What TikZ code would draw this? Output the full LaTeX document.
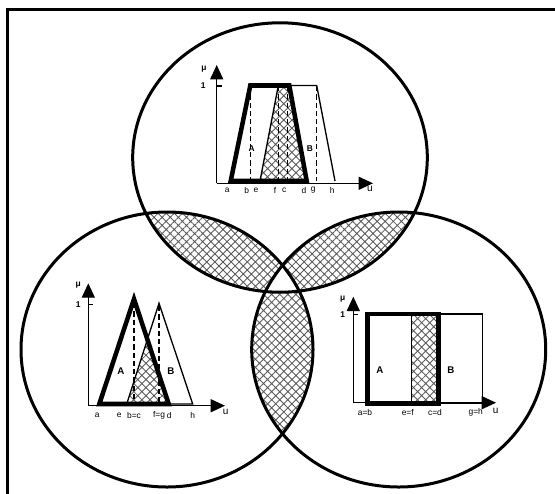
\documentclass[tikz,border=0pt]{standalone}
\usepackage{fontspec}
\setmainfont{Liberation Sans}
\usetikzlibrary{arrows.meta,patterns.meta}

\begin{document}
\begin{tikzpicture}[x=0.75pt, y=-0.75pt,
  ring/.style={line width=2.25pt},
  topset/.style={insert path={(280,157.5) ellipse [x radius=147.3, y radius=134.7]}},
  leftset/.style={insert path={(167,349.5) ellipse [x radius=146, y radius=137.5]}},
  rightset/.style={insert path={(398.7,349.5) ellipse [x radius=147, y radius=137.5]}},
  setA/.style={line width=3.4pt},
  setB/.style={line width=1pt},
  cut/.style={line width=1.1pt, dash pattern=on 4pt off 2.2pt},
  axis/.style={line width=1pt, -{Triangle[length=10.8pt, width=9.8pt]}},
  hatch/.style={pattern={Hatch[angle=45, distance=4.3pt, line width=0.65pt]}, pattern color=black!65},
  ticklab/.style={font=\fontsize{6.3}{7}\selectfont, inner sep=0pt},
  mulab/.style={font=\bfseries\fontsize{6.3}{7}\selectfont, inner sep=0pt},
  ulab/.style={font=\fontsize{7.5}{8}\selectfont, inner sep=0pt},
  setlab/.style={font=\bfseries\fontsize{7.3}{8}\selectfont, inner sep=0pt}]
  \useasboundingbox (0,0) rectangle (555,493);
  \clip (0,0) rectangle (555,493);
  % frame (runs off the right and bottom)
  \draw[line width=2.25pt] (7.5,600) -- (7.5,9) -- (600,9);
  % hatched lenses
  \begin{scope}
    \clip[topset];
    \fill[hatch, leftset];
    \fill[hatch, rightset];
  \end{scope}
  \begin{scope}
    \clip[leftset];
    \fill[hatch, rightset];
  \end{scope}
  % middle part left blank
  \begin{scope}
    \clip[topset];
    \clip[leftset];
    \fill[white, rightset];
  \end{scope}
  % the three sets
  \draw[ring, topset];
  \draw[ring, leftset];
  \draw[ring, rightset];

  % top plot: trapezoids
  \fill[hatch] (260,181) -- (278.3,85.5) -- (289.3,85.5) -- (306.7,181) -- cycle;
  \draw[axis] (216.7,183.3) -- (216.7,65);
  \draw[axis] (216.7,183.3) -- (373,183.3);
  \draw[line width=1pt] (216.7,86) -- ++(5,0);
  \node[mulab] (muT) at (204,69.5) {μ};
  \node[mulab] (oneT) at (203.3,86) {1};
  \node[ulab] (uT) at (370,189.3) {u};
  \foreach \x in {250.3,278.3,287.7,316.3}{
    \draw[cut] (\x,86) -- (\x,181);
  }
  \draw[setB] (260,181) -- (278.3,85.5) -- (316.7,85.5) -- (335,181);
  \draw[setA] (230.7,181) -- (250.3,85.5) -- (289.3,85.5) -- (306.7,181) -- cycle;
  \node[setlab, font=\bfseries\fontsize{6.3}{7}\selectfont] (AT) at (251.7,148.3) {A};
  \node[setlab, font=\bfseries\fontsize{6.3}{7}\selectfont] (BT) at (310,148.3) {B};
  \foreach \x/\t [count=\i] in {227.3/a,246.7/b,256/e,275/f,284.3/c,304/d,313.3/g,332.3/h}{
    \node[ticklab] (tT\i) at (\x,190) {\t};
  }

  % left plot: triangles
  \fill[hatch] (126.7,404) -- (intersection of 134,299--168.7,404 and 126.7,404--159,303.3) -- (168.7,404) -- cycle;
  \draw[axis] (88.3,405.7) -- (88.3,283.3);
  \draw[axis] (88.3,405.7) -- (225,405.7);
  \draw[line width=1pt] (88.3,304.7) -- ++(5,0);
  \node[mulab] (muL) at (78.3,285) {μ};
  \node[mulab] (oneL) at (78.3,304.5) {1};
  \node[ulab] (uL) at (225.7,411.7) {u};
  \draw[cut] (134,303) -- (134,404);
  \draw[cut] (159,306) -- (159,404);
  \draw[setB] (126.7,404) -- (159,303.3) -- (192.7,404) -- cycle;
  \draw[setA] (99.3,404) -- (134,299) -- (168.7,404) -- cycle;
  \node[setlab] (AL) at (121,370.7) {A};
  \node[setlab] (BL) at (171,370.7) {B};
  \foreach \x/\t [count=\i] in {97.3/a,119.3/e,134/b=c,159/f=g,169.3/d,192.7/h}{
    \node[ticklab] (tL\i) at (\x,415.7) {\t};
  }

  % right plot: rectangles
  \fill[hatch] (411.7,314) rectangle (438.3,403.7);
  \draw[axis] (353.3,402.7) -- (353.3,296.7);
  \draw[axis] (353.3,402.7) -- (496,402.7);
  \draw[line width=1pt] (353.3,314.3) -- ++(5,0);
  \node[mulab] (muR) at (342.7,299.3) {μ};
  \node[mulab] (oneR) at (342.7,315) {1};
  \node[ulab] (uR) at (495.7,411) {u};
  \draw[setB] (411.7,314) rectangle (482.3,403.7);
  \draw[setA] (367.3,314) rectangle (438.3,403.7);
  \node[setlab] (AR) at (380,370) {A};
  \node[setlab] (BR) at (451,370) {B};
  \foreach \x/\t [count=\i] in {365/a=b,407.7/e=f,435/c=d,475.7/g=h}{
    \node[ticklab] (tR\i) at (\x,412.3) {\t};
  }
\end{tikzpicture}
\end{document}
